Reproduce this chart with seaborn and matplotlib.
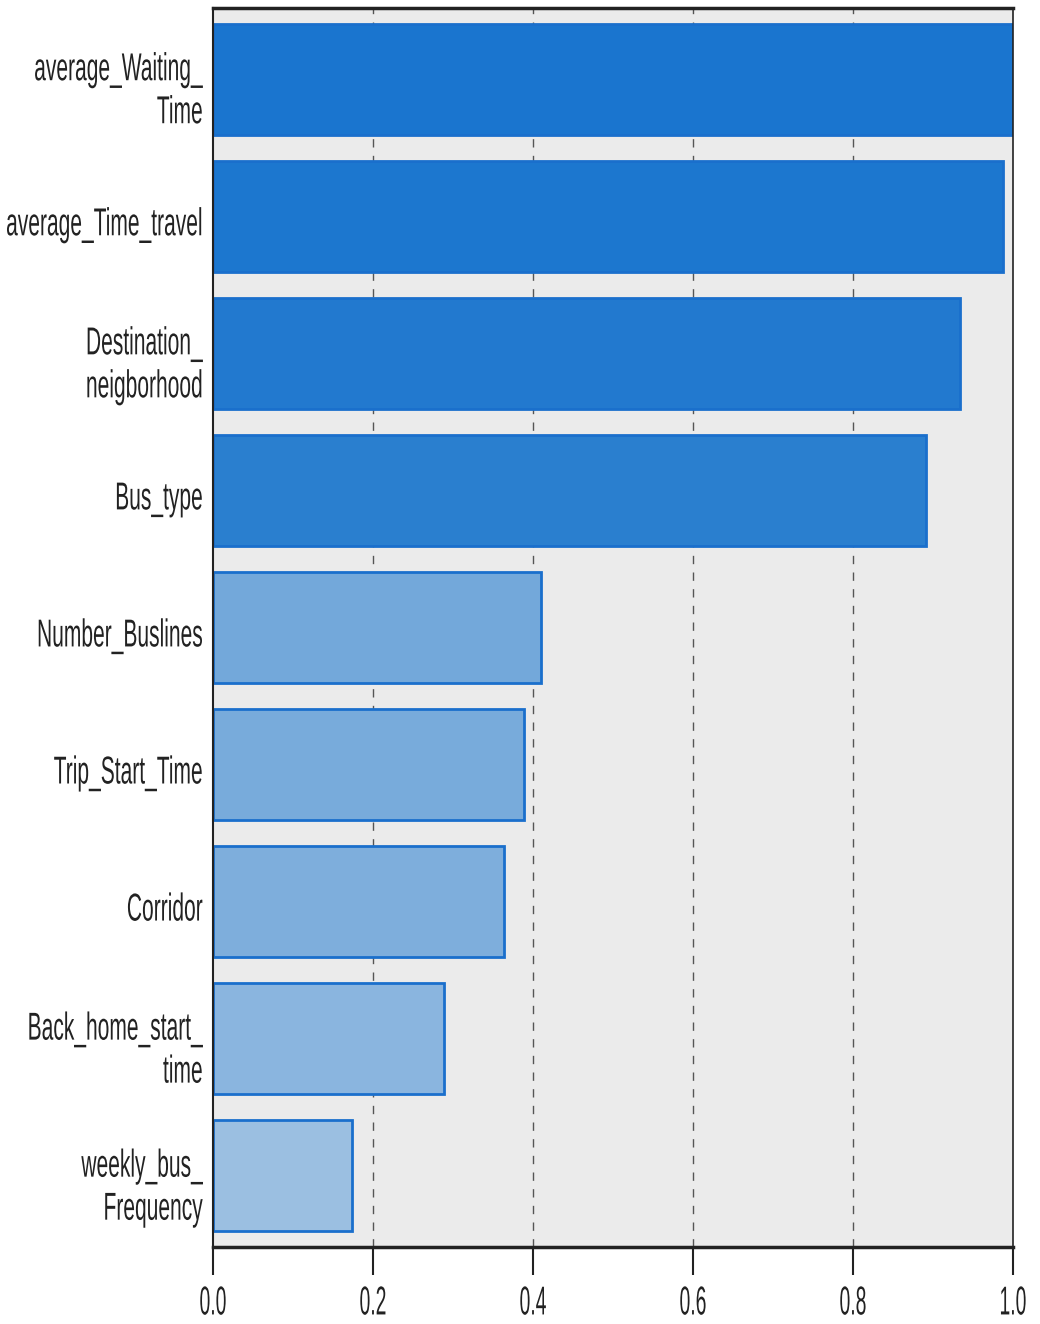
import matplotlib
matplotlib.use("Agg")
import matplotlib.pyplot as plt
import seaborn as sns
import pandas as pd
from matplotlib.patheffects import AbstractPathEffect
from matplotlib.transforms import Affine2D


# Data

features = ["average_Waiting_\nTime", "average_Time_travel", "Destination_\nneigborhood",
            "Bus_type", "Number_Buslines", "Trip_Start_Time", "Corridor",
            "Back_home_start_\ntime", "weekly_bus_\nFrequency"]
importance = [1.0, 0.988, 0.934, 0.891, 0.41, 0.389, 0.364, 0.289, 0.174]
bar_colors = ["#1a75cf", "#1c77cf", "#2279cf", "#2a7fcf", "#73a8da",
              "#78abdb", "#7eaedc", "#8ab5df", "#9bbfe1"]
xticks = [0.0, 0.2, 0.4, 0.6, 0.8, 1.0]

df = pd.DataFrame({"feature": features, "importance": importance})


# narrow glyphs (the reference font is a condensed sans)

class Squeeze(AbstractPathEffect):
    def __init__(self, x0, sx, dy=0):
        super().__init__()
        self.x0 = x0
        self.sx = sx
        self.dy = dy

    def draw_path(self, renderer, gc, tpath, affine, rgbFace=None):
        t = affine + Affine2D().translate(-self.x0, 0).scale(self.sx, 1).translate(self.x0, self.dy)
        renderer.draw_path(gc, tpath, t, rgbFace)


# Style

sns.set_style("white")
plt.rcParams["font.family"] = ["Liberation Sans", "DejaVu Sans"]

W, H, DPI = 10.4, 13.24, 100
left, bottom, width, height = 0.2048, 0.0582, 0.7692, 0.9358
ypad = 5.5


# Chart

fig = plt.figure(figsize=(W, H), dpi=DPI)
ax = fig.add_axes([left, bottom, width, height])
ax.set_facecolor("#ebebeb")

sns.barplot(data=df, x="importance", y="feature", hue="feature",
            palette=bar_colors, saturation=1, legend=False, width=0.81,
            edgecolor="#1a6fcc", linewidth=2, ax=ax, zorder=2)

ax.set_xlim(0, 1.0)
ax.set_ylim(8.52, -0.52)
ax.set_xticks(xticks)
ax.set_xticklabels([f"{t:.1f}" for t in xticks])
for t in xticks[1:-1]:
    ax.axvline(t, color="#555555", linestyle=(0, (6, 6)), linewidth=1, zorder=1)

ax.set_xlabel("")
ax.set_ylabel("")
ax.tick_params(axis="x", bottom=True, length=20, width=1.5, color="#222222",
               labelsize=29, pad=7, labelcolor="#222222")
ax.tick_params(axis="y", left=False, labelsize=28, pad=ypad, labelcolor="#222222")

ax_left_px = left * W * DPI
ax_width_px = width * W * DPI
y_anchor = ax_left_px - ypad * DPI / 72
for lab in ax.get_yticklabels():
    lab.set_linespacing(1.25)
    lab.set_path_effects([Squeeze(y_anchor, 0.54, dy=-5)])
for t, lab in zip(xticks, ax.get_xticklabels()):
    lab.set_path_effects([Squeeze(ax_left_px + t * ax_width_px, 0.48)])

for side in ["left", "right", "top", "bottom"]:
    ax.spines[side].set_visible(True)
    ax.spines[side].set_color("#222222")
ax.spines["left"].set_linewidth(1.5)
ax.spines["right"].set_linewidth(1.2)
ax.spines["top"].set_linewidth(2.5)
ax.spines["bottom"].set_linewidth(2.5)

plt.savefig("out.png", dpi=DPI)
